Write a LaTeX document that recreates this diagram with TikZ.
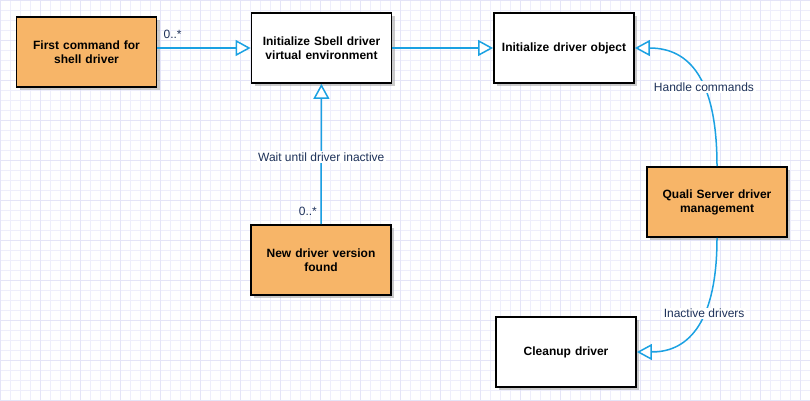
\documentclass[tikz,border=0pt]{standalone}
\usepackage{fontspec}
\setmainfont{Liberation Sans}
\usetikzlibrary{arrows.meta,shadows}

\definecolor{boxorange}{RGB}{247,181,104}
\definecolor{linkblue}{RGB}{27,161,226}
\definecolor{labelnavy}{RGB}{30,50,90}
\definecolor{gridlav}{RGB}{238,238,251}
\definecolor{gridmaj}{RGB}{228,228,247}

\tikzset{
  stepbox/.style={draw=black, line width=1.8pt, fill=white,
    minimum width=140pt, minimum height=70pt, text width=130pt, align=center,
    font=\fontsize{12}{14}\selectfont\bfseries,
    drop shadow={shadow xshift=3pt, shadow yshift=-3pt, fill=black!35, opacity=0.6}},
  actor/.style={stepbox, fill=boxorange},
  link/.style={draw=linkblue, line width=1.5pt,
    -{Triangle[open, length=15pt, width=16pt, line width=1.5pt, fill=white]}},
  linklabel/.style={font=\fontsize{12}{14}\selectfont, text=labelnavy, inner sep=1.5pt},
}

\begin{document}
\begin{tikzpicture}[x=1pt, y=-1pt]

\useasboundingbox (0,0) rectangle (810,400);

    % background grid
    \draw[gridlav, line width=0.5pt, step=10pt] (0,0) grid (810,400);
    \draw[gridmaj, line width=0.6pt, step=40pt] (0,0) grid (810,400);

    \node[actor] (first) at (86.5,52) {First command for\\ shell driver};
    \node[stepbox] (sbell) at (321.5,48) {Initialize Sbell driver\\ virtual environment};
    \node[stepbox] (object) at (564,48) {Initialize driver object};
    \node[actor] (newver) at (321,260) {New driver version\\ found};
    \node[actor] (quali) at (717,202) {Quali Server driver\\ management};
    \node[stepbox] (cleanup) at (566,352) {Cleanup driver};

    \draw[link] (first.east |- sbell.west) -- (sbell.west)
      node[linklabel, pos=0, anchor=south west, xshift=4pt, yshift=7pt] {0..*};
    \draw[link] (sbell) -- (object);
    \draw[link] (newver) -- (sbell)
      node[linklabel, pos=0.48, fill=white] {Wait until driver inactive}
      node[linklabel, pos=0.09, left=2pt] {0..*};

    \draw[link] (quali.north) .. controls (717,80) and (690,48) .. (object.east)
      node[linklabel, pos=0.4, fill=white] {Handle commands};
    \draw[link] (quali.south) .. controls (717,320) and (690,352) .. (cleanup.east)
      node[linklabel, pos=0.4, fill=white] {Inactive drivers};
  \end{tikzpicture}
\end{document}
